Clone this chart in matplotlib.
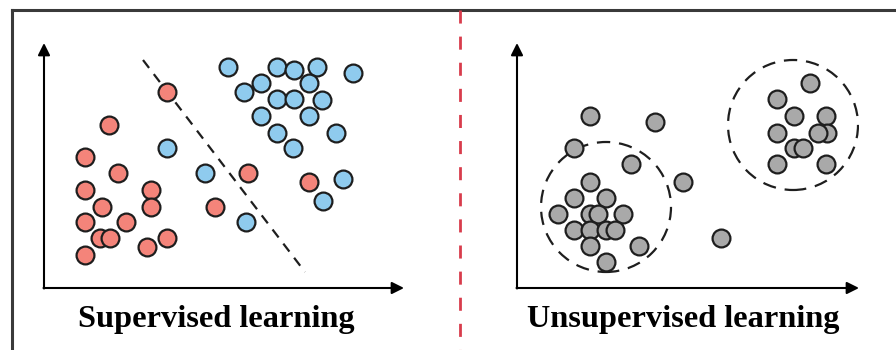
import numpy as np
import matplotlib
matplotlib.use("Agg")
import matplotlib.pyplot as plt
from matplotlib.patches import Circle
from matplotlib.lines import Line2D

# -----------------------------
# Data (panel units, 10 px per unit)
# -----------------------------
red_x = [12.3, 6.5, 4.1, 7.4, 4.1, 10.7, 5.8, 10.7, 4.1, 8.2, 5.6, 6.6, 10.3, 12.3, 4.1, 17.1, 20.4, 26.5]
red_y = [19.6, 16.3, 13.1, 11.5, 9.8, 9.8, 8.1, 8.1, 6.6, 6.6, 5.0, 5.0, 4.1, 5.0, 3.3, 8.1, 11.5, 10.6]

blue_x = [18.4, 23.3, 25.0, 27.3, 30.9, 21.7, 26.5, 20.0, 23.3, 25.0, 27.8, 21.7, 26.5, 23.3, 29.2,
          24.9, 12.3, 16.1, 29.9, 27.9, 20.2]
blue_y = [22.1, 22.1, 21.8, 22.1, 21.5, 20.5, 20.5, 19.6, 18.9, 18.9, 18.8, 17.2, 17.2, 15.5, 15.5,
          14.0, 14.0, 11.5, 10.9, 8.7, 6.6]

boundary_x = [9.9, 26.1]
boundary_y = [22.8, 1.6]

gray_x = [29.3, 26.0, 27.7, 30.9, 26.0, 31.0, 30.1, 27.7, 28.6, 26.0, 30.9,
          7.3, 13.8, 5.7, 11.4, 7.3, 16.6, 5.7, 8.9, 4.1, 7.3, 8.1, 10.6,
          5.7, 7.3, 8.9, 9.8, 7.3, 12.2, 8.9, 20.4]
gray_y = [20.5, 18.9, 17.2, 17.2, 15.5, 15.5, 15.5, 14.0, 14.0, 12.4, 12.4,
          17.2, 16.6, 14.0, 12.4, 10.6, 10.6, 9.0, 9.0, 7.4, 7.4, 7.4, 7.4,
          5.8, 5.8, 5.8, 5.8, 4.2, 4.2, 2.6, 5.0]

cluster_cx = [27.6, 8.9]
cluster_cy = [16.3, 8.1]
cluster_r = [6.5, 6.5]

titles = ["Supervised learning", "Unsupervised learning"]

# -----------------------------
# Style
# -----------------------------
RED = "#f4847a"
BLUE = "#8fcbee"
GRAY = "#a9a9a9"
EDGE = "#1e1e1e"
DIVIDER = "#d83c4c"
FRAME = "#3a3a3a"
W, H = 896, 350
MS = 165

fig = plt.figure(figsize=(W / 100, H / 100), dpi=100)
fig.patch.set_facecolor("white")


def px_axes(x0, y_top, w, h):
    # axes placed by pixel box (top-left origin)
    return fig.add_axes([x0 / W, 1 - (y_top + h) / H, w / W, h / H])


def draw_arrows(ax, xmax, ymax):
    kw = dict(arrowstyle="-|>", color="black", lw=1.5, mutation_scale=18,
              shrinkA=0, shrinkB=0)
    ax.annotate("", xy=(xmax, 0), xytext=(-0.05, 0), arrowprops=kw, annotation_clip=False)
    ax.annotate("", xy=(0, ymax), xytext=(0, -0.05), arrowprops=kw, annotation_clip=False)


# overlay for frame and divider
bg = fig.add_axes([0, 0, 1, 1])
bg.set_xlim(0, W)
bg.set_ylim(H, 0)
bg.axis("off")
bg.add_line(Line2D([12, W], [10, 10], color=FRAME, lw=2.2))
bg.add_line(Line2D([12, 12], [10, H], color=FRAME, lw=2.2))
bg.add_line(Line2D([460, 460], [10, H], color=DIVIDER, lw=2, dashes=(4.7, 4.7)))

# -----------------------------
# Left panel: supervised
# -----------------------------
ax1 = px_axes(44, 43, 360, 245)
ax1.set_xlim(0, 36)
ax1.set_ylim(0, 24.5)
ax1.axis("off")
draw_arrows(ax1, 36, 24.5)
ax1.plot(boundary_x, boundary_y, color="#1e1e1e", lw=1.6, dashes=(4.5, 3.5), zorder=1)
ax1.scatter(red_x, red_y, s=MS, c=RED, edgecolors=EDGE, linewidths=1.6, zorder=3, clip_on=False)
ax1.scatter(blue_x, blue_y, s=MS, c=BLUE, edgecolors=EDGE, linewidths=1.6, zorder=3, clip_on=False)

# -----------------------------
# Right panel: unsupervised
# -----------------------------
ax2 = px_axes(517, 43, 342, 245)
ax2.set_xlim(0, 34.2)
ax2.set_ylim(0, 24.5)
ax2.axis("off")
draw_arrows(ax2, 34.2, 24.5)
for cx, cy, r in zip(cluster_cx, cluster_cy, cluster_r):
    ax2.add_patch(Circle((cx, cy), r, fill=False, ec="#1e1e1e", lw=1.6,
                         linestyle=(0, (6, 4)), zorder=1))
ax2.scatter(gray_x, gray_y, s=MS, c=GRAY, edgecolors=EDGE, linewidths=1.6, zorder=3, clip_on=False)

# -----------------------------
# Titles
# -----------------------------
fig.text(216 / W, 1 - 319 / H, titles[0], ha="center", va="center",
         fontsize=23.3, fontweight="bold", family="Liberation Serif")
fig.text(683 / W, 1 - 319 / H, titles[1], ha="center", va="center",
         fontsize=23.3, fontweight="bold", family="Liberation Serif")

fig.savefig("out.png", dpi=100)
